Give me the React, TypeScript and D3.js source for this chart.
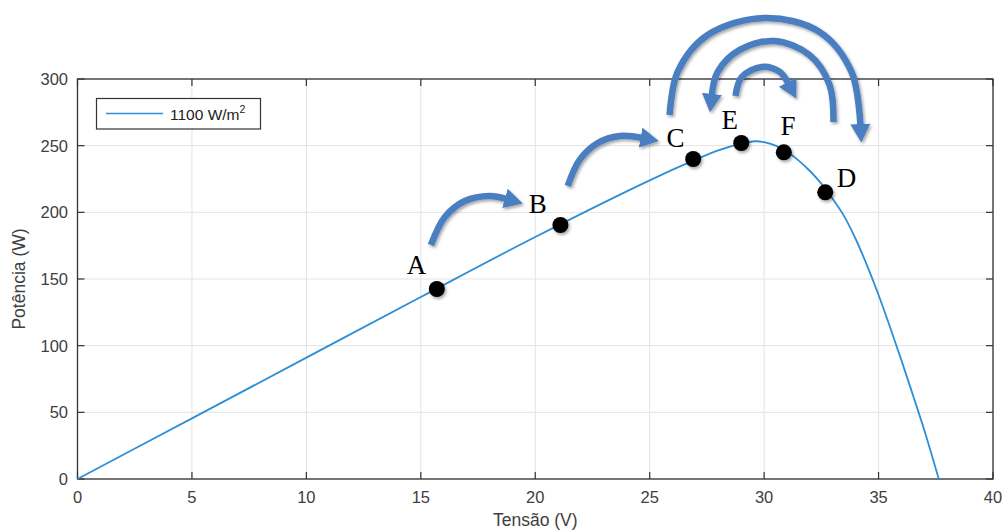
import React from "react";
import * as d3 from "d3";

// Curve data (Tensão V, Potência W)
const voltage = [0, 5, 10, 15, 20, 25, 27, 28, 29, 29.6, 30, 30.5, 31, 31.5, 32, 32.5, 33, 33.5, 34, 34.5, 35, 35.5, 36, 36.5, 37, 37.63];
const power = [0, 45.5, 91, 136.5, 181.5, 224, 239.5, 246.5, 251.5, 253.3, 252.6, 250, 245.5, 239, 231, 221.5, 210, 197, 180, 160, 138, 114, 89, 63, 36.5, 0];

const xTicks = [0, 5, 10, 15, 20, 25, 30, 35, 40];
const yTicks = [0, 50, 100, 150, 200, 250, 300];

// Marked points
const pointLabels = ["A", "B", "C", "E", "F", "D"];
const pointV = [15.7, 21.1, 26.9, 29.0, 30.86, 32.67];
const pointP = [142.5, 190.5, 240, 252, 245, 215];
// Label anchors (data units)
const labelV = [14.39, 19.72, 25.74, 28.14, 30.72, 33.17];
const labelP = [153.8, 199.5, 249, 262.5, 258, 219];

// Annotation arrows (data units)
const arrows: [number, number][][] = [
  [[15.44, 175.5], [16.05, 196.5], [16.92, 208.5], [18.01, 212.3], [18.76, 210]],
  [[21.42, 219.8], [21.94, 239.3], [22.73, 252], [23.69, 257.3], [24.69, 255.8]],
  [[25.87, 273], [26.22, 305.3], [27.53, 333], [30.02, 345.8], [32.42, 335.3], [33.82, 305.3], [34.21, 264.8]],
  [[33.03, 267.8], [32.86, 295.5], [31.98, 318], [30.46, 328.5], [28.93, 321.8], [27.97, 305.3], [27.71, 287.3]],
  [[28.75, 287.3], [29.02, 301.5], [29.89, 309], [30.68, 305.3], [31.07, 296.3]],
];

const W = 1004;
const H = 530;
const left = 77.5;
const right = 993;
const top = 79;
const bottom = 479;

export default function App() {
  const x = d3.scaleLinear().domain([0, 40]).range([left, right]);
  const y = d3.scaleLinear().domain([0, 300]).range([bottom, top]);
  const curve = d3
    .line<number>()
    .x((_, i) => x(voltage[i]))
    .y((_, i) => y(power[i]))
    .curve(d3.curveCatmullRom.alpha(0.5));
  const arrowLine = d3
    .line<[number, number]>()
    .x((d) => x(d[0]))
    .y((d) => y(d[1]))
    .curve(d3.curveCatmullRom.alpha(0.5));
  const tickColor = "#404040";
  const arrowColor = "#4a7ec0";
  return (
    <div style={{ position: "absolute", left: 0, top: 0 }}>
      <svg width={W} height={H} style={{ display: "block", background: "#fff" }}>
        <defs>
          <filter id="sh" x="-20%" y="-20%" width="140%" height="140%">
            <feDropShadow dx="1.5" dy="2" stdDeviation="1.5" floodColor="#000" floodOpacity="0.35" />
          </filter>
          <marker id="ah" markerUnits="userSpaceOnUse" markerWidth="26" markerHeight="26" refX="2" refY="0" viewBox="0 -13 26 26" orient="auto">
            <path d="M0,-10 L18.5,0 L0,10 Z" fill={arrowColor} />
          </marker>
        </defs>
        {/* grid */}
        {xTicks.map((t) => (
          <line key={"gx" + t} x1={x(t)} x2={x(t)} y1={top} y2={bottom} stroke="#e3e3e3" strokeWidth={1} />
        ))}
        {yTicks.map((t) => (
          <line key={"gy" + t} x1={left} x2={right} y1={y(t)} y2={y(t)} stroke="#e3e3e3" strokeWidth={1} />
        ))}
        {/* box */}
        <rect x={left} y={top} width={right - left} height={bottom - top} fill="none" stroke="#333" strokeWidth={1.3} />
        {xTicks.map((t) => (
          <g key={"tx" + t}>
            <line x1={x(t)} x2={x(t)} y1={bottom} y2={bottom - 7} stroke="#333" strokeWidth={1.2} />
            <line x1={x(t)} x2={x(t)} y1={top} y2={top + 7} stroke="#333" strokeWidth={1.2} />
            <text x={x(t)} y={503} textAnchor="middle" fontFamily="Liberation Sans, Arial, sans-serif" fontSize={16.5} fill={tickColor}>
              {t}
            </text>
          </g>
        ))}
        {yTicks.map((t) => (
          <g key={"ty" + t}>
            <line x1={left} x2={left + 7} y1={y(t)} y2={y(t)} stroke="#333" strokeWidth={1.2} />
            <line x1={right} x2={right - 7} y1={y(t)} y2={y(t)} stroke="#333" strokeWidth={1.2} />
            <text x={68} y={y(t) + 6} textAnchor="end" fontFamily="Liberation Sans, Arial, sans-serif" fontSize={16.5} fill={tickColor}>
              {t}
            </text>
          </g>
        ))}
        <text x={(left + right) / 2} y={526} textAnchor="middle" fontFamily="Liberation Sans, Arial, sans-serif" fontSize={17.5} fill={tickColor}>
          Tensão (V)
        </text>
        <text
          transform={`translate(25,${(top + bottom) / 2}) rotate(-90)`}
          textAnchor="middle"
          fontFamily="Liberation Sans, Arial, sans-serif"
          fontSize={17.5}
          fill={tickColor}
        >
          Potência (W)
        </text>
        {/* legend */}
        <rect x={96.5} y={98.5} width={164} height={30.5} fill="#fff" stroke="#333" strokeWidth={1.2} />
        <line x1={106} x2={163} y1={113.5} y2={113.5} stroke="#2f8fd6" strokeWidth={1.6} />
        <text x={170} y={119.5} fontFamily="Liberation Sans, Arial, sans-serif" fontSize={15.5} fill="#222">
          1100 W/m
          <tspan dy={-7} fontSize={10.5}>2</tspan>
        </text>
        {/* curve */}
        <path d={curve(voltage) || ""} fill="none" stroke="#2f8fd6" strokeWidth={1.8} />
        {/* arrows */}
        <g filter="url(#sh)">
          {arrows.map((a, i) => (
            <path key={"ar" + i} d={arrowLine(a) || ""} fill="none" stroke={arrowColor} strokeWidth={6.5} markerEnd="url(#ah)" />
          ))}
        </g>
        {/* points */}
        <g filter="url(#sh)">
          {pointV.map((v, i) => (
            <circle key={"pt" + i} cx={x(v)} cy={y(pointP[i])} r={8} fill="#000" />
          ))}
        </g>
        {pointLabels.map((l, i) => (
          <text key={"lb" + l} x={x(labelV[i])} y={y(labelP[i])} fontFamily="Liberation Serif, Times New Roman, serif" fontSize={27} fill="#000">
            {l}
          </text>
        ))}
      </svg>
    </div>
  );
}
